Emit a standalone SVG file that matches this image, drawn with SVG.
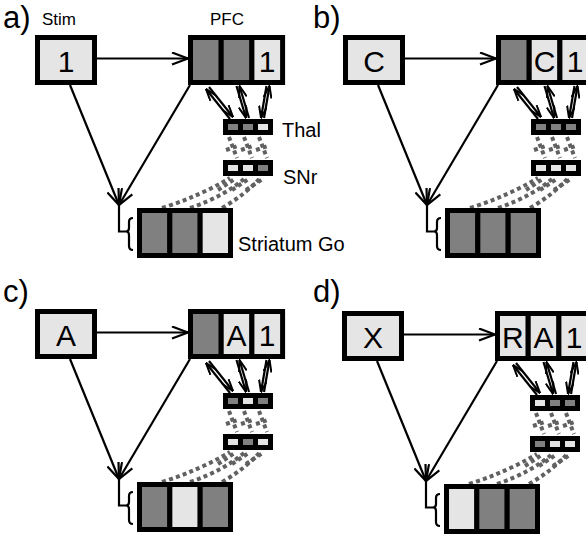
<svg xmlns="http://www.w3.org/2000/svg" width="586" height="535" viewBox="0 0 586 535">
<style>
.box{stroke:#000;stroke-width:5}
.dk{fill:#808080}
.lt{fill:#e5e5e5}
.big{font-family:"Liberation Sans",Arial,sans-serif;font-size:30px;text-anchor:middle;fill:#000}
.lbl{font-family:"Liberation Sans",Arial,sans-serif;font-size:20px;fill:#000}
.hd{font-family:"Liberation Sans",Arial,sans-serif;font-size:17px;fill:#000}
.pl{font-family:"Liberation Sans",Arial,sans-serif;font-size:31px;fill:#000}
.ln{stroke:#000;stroke-width:2.2;fill:none}
.tl{stroke:#000;stroke-width:2.2;fill:none}
.dot{stroke:#616161;stroke-width:4;stroke-dasharray:4 3.2;fill:none}
</style>
<defs>
<marker id="ah" viewBox="0 0 18 14" refX="17" refY="7" markerWidth="18" markerHeight="14" markerUnits="userSpaceOnUse" orient="auto"><path d="M1,1 L17,7 L1,13" fill="none" stroke="#000" stroke-width="2.2"/></marker>
<marker id="sh" viewBox="0 0 13 9" refX="12.5" refY="4.5" markerWidth="13" markerHeight="9" markerUnits="userSpaceOnUse" orient="auto-start-reverse"><path d="M0.5,0.5 L12.5,4.5 L0.5,8.5" fill="none" stroke="#000" stroke-width="2"/></marker>
<g id="conn">
<line class="ln" x1="97" y1="58.5" x2="188" y2="58.5" marker-end="url(#ah)"/>
<line class="ln" x1="70" y1="85" x2="119" y2="205" marker-end="url(#ah)"/>
<line class="ln" x1="190" y1="85" x2="119" y2="205" marker-end="url(#ah)"/>
<path class="ln" d="M119,205 V231.5 H126"/>
<path class="ln" d="M133,218 Q129,218 129,222 V228 Q129,231.5 126,231.5 Q129,231.5 129,235 V246 Q129,250 133,250"/>
<line class="tl" x1="209" y1="87" x2="233" y2="117" marker-end="url(#sh)"/>
<line class="tl" x1="206" y1="89" x2="230" y2="119" marker-start="url(#sh)"/>
<line class="tl" x1="236.5" y1="86" x2="246" y2="118" marker-end="url(#sh)"/>
<line class="tl" x1="239.5" y1="86" x2="249" y2="118" marker-start="url(#sh)"/>
<line class="tl" x1="266.5" y1="86" x2="261" y2="118" marker-end="url(#sh)"/>
<line class="tl" x1="269.5" y1="86" x2="264" y2="118" marker-start="url(#sh)"/>
<path class="dot" d="M229,137 L237,158 M244,137 L252,158 M259,137 L267,158"/>
<path class="dot" d="M226,150 L238,146 M241,150 L253,146 M256,150 L268,146"/>
<path class="dot" d="M162,208 Q200,196 230,178"/>
<path class="dot" d="M190,208 Q225,196 245,178"/>
<path class="dot" d="M222,208 Q245,195 260,178"/>
<path class="dot" d="M218,190 L236,178 M232,190 L250,178 M246,190 L264,178"/>
</g>
</defs>

<!-- Panel a -->
<g id="panel-a">
<text class="pl" x="3" y="28">a)</text>
<g id="a-connectors"><use href="#conn"/></g>
<g id="a-stim"><text class="hd" x="42" y="25">Stim</text><rect class="box lt" x="37.5" y="37.5" width="57" height="45"/><text class="big" x="66" y="72">1</text></g>
<g id="a-pfc"><text class="hd" x="210" y="25">PFC</text>
<rect class="box dk" x="190.5" y="37.5" width="30.7" height="45"/><rect class="box dk" x="221.2" y="37.5" width="30.7" height="45"/><rect class="box lt" x="251.9" y="37.5" width="30.7" height="45"/>
<text class="big" x="267.2" y="72">1</text></g>
<g id="a-thal"><rect class="box dk" x="225.5" y="121.5" width="15" height="11"/><rect class="box dk" x="240.5" y="121.5" width="15" height="11"/><rect class="box lt" x="255.5" y="121.5" width="15" height="11"/><text class="lbl" x="282" y="137">Thal</text></g>
<g id="a-snr"><rect class="box lt" x="225.5" y="162.5" width="15" height="11"/><rect class="box lt" x="240.5" y="162.5" width="15" height="11"/><rect class="box dk" x="255.5" y="162.5" width="15" height="11"/><text class="lbl" x="283" y="184">SNr</text></g>
<g id="a-striatum"><rect class="box dk" x="139.5" y="210.5" width="30.33" height="45"/><rect class="box dk" x="169.83" y="210.5" width="30.33" height="45"/><rect class="box lt" x="200.17" y="210.5" width="30.33" height="45"/><text class="lbl" x="238" y="251">Striatum Go</text></g>
</g>

<!-- Panel b -->
<text class="pl" x="313" y="28">b)</text>
<g id="panel-b" transform="translate(308,0)">
<g id="b-connectors"><use href="#conn"/></g>
<g id="b-stim"><rect class="box lt" x="37.5" y="37.5" width="57" height="45"/><text class="big" x="66" y="72">C</text></g>
<g id="b-pfc"><rect class="box dk" x="190.5" y="37.5" width="30.7" height="45"/><rect class="box lt" x="221.2" y="37.5" width="30.7" height="45"/><rect class="box lt" x="251.9" y="37.5" width="30.7" height="45"/>
<text class="big" x="236.5" y="72">C</text><text class="big" x="267.2" y="72">1</text></g>
<g id="b-thal"><rect class="box dk" x="225.5" y="121.5" width="15" height="11"/><rect class="box dk" x="240.5" y="121.5" width="15" height="11"/><rect class="box dk" x="255.5" y="121.5" width="15" height="11"/></g>
<g id="b-snr"><rect class="box lt" x="225.5" y="162.5" width="15" height="11"/><rect class="box lt" x="240.5" y="162.5" width="15" height="11"/><rect class="box lt" x="255.5" y="162.5" width="15" height="11"/></g>
<g id="b-striatum"><rect class="box dk" x="139.5" y="210.5" width="30.33" height="45"/><rect class="box dk" x="169.83" y="210.5" width="30.33" height="45"/><rect class="box dk" x="200.17" y="210.5" width="30.33" height="45"/></g>
</g>

<!-- Panel c -->
<text class="pl" x="3" y="302">c)</text>
<g id="panel-c" transform="translate(0,274)">
<g id="c-connectors"><use href="#conn"/></g>
<g id="c-stim"><rect class="box lt" x="37.5" y="37.5" width="57" height="45"/><text class="big" x="66" y="72">A</text></g>
<g id="c-pfc"><rect class="box dk" x="190.5" y="37.5" width="30.7" height="45"/><rect class="box lt" x="221.2" y="37.5" width="30.7" height="45"/><rect class="box lt" x="251.9" y="37.5" width="30.7" height="45"/>
<text class="big" x="236.5" y="72">A</text><text class="big" x="267.2" y="72">1</text></g>
<g id="c-thal"><rect class="box dk" x="225.5" y="121.5" width="15" height="11"/><rect class="box lt" x="240.5" y="121.5" width="15" height="11"/><rect class="box dk" x="255.5" y="121.5" width="15" height="11"/></g>
<g id="c-snr"><rect class="box lt" x="225.5" y="162.5" width="15" height="11"/><rect class="box dk" x="240.5" y="162.5" width="15" height="11"/><rect class="box lt" x="255.5" y="162.5" width="15" height="11"/></g>
<g id="c-striatum"><rect class="box dk" x="139.5" y="210.5" width="30.33" height="45"/><rect class="box lt" x="169.83" y="210.5" width="30.33" height="45"/><rect class="box dk" x="200.17" y="210.5" width="30.33" height="45"/></g>
</g>

<!-- Panel d -->
<text class="pl" x="313" y="302">d)</text>
<g id="panel-d" transform="translate(307,276)">
<g id="d-connectors"><use href="#conn"/></g>
<g id="d-stim"><rect class="box lt" x="37.5" y="37.5" width="57" height="45"/><text class="big" x="66" y="72">X</text></g>
<g id="d-pfc"><rect class="box lt" x="190.5" y="37.5" width="30.7" height="45"/><rect class="box lt" x="221.2" y="37.5" width="30.7" height="45"/><rect class="box lt" x="251.9" y="37.5" width="30.7" height="45"/>
<text class="big" x="205.8" y="72">R</text><text class="big" x="236.5" y="72">A</text><text class="big" x="267.2" y="72">1</text></g>
<g id="d-thal"><rect class="box lt" x="225.5" y="121.5" width="15" height="11"/><rect class="box dk" x="240.5" y="121.5" width="15" height="11"/><rect class="box dk" x="255.5" y="121.5" width="15" height="11"/></g>
<g id="d-snr"><rect class="box dk" x="225.5" y="162.5" width="15" height="11"/><rect class="box lt" x="240.5" y="162.5" width="15" height="11"/><rect class="box lt" x="255.5" y="162.5" width="15" height="11"/></g>
<g id="d-striatum"><rect class="box lt" x="139.5" y="210.5" width="30.33" height="45"/><rect class="box dk" x="169.83" y="210.5" width="30.33" height="45"/><rect class="box dk" x="200.17" y="210.5" width="30.33" height="45"/></g>
</g>
</svg>
